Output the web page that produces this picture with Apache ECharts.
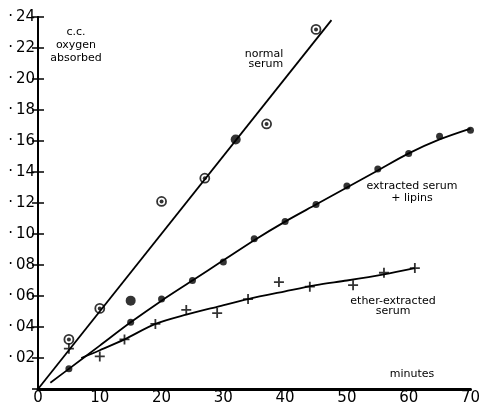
<!DOCTYPE html>
<html>
<head>
<meta charset="utf-8">
<script src="https://cdn.jsdelivr.net/npm/echarts@6/dist/echarts.min.js"></script>
<style>html,body{margin:0;padding:0;background:#fff;}#c{width:483px;height:406px;}</style>
</head>
<body>
<div id="c"></div>
<script>
// Normal serum (ringed circles) and the two solid ones
const normalRingX = [5, 10, 20, 27, 37, 45];
const normalRingY = [0.032, 0.052, 0.121, 0.136, 0.171, 0.232];
const normalSolidX = [15, 32];
const normalSolidY = [0.057, 0.161];
const normalFitX = [0, 47.5];
const normalFitY = [0, 0.238];

// Extracted serum + lipins (dots)
const extractedX = [5, 15, 20, 25, 30, 35, 40, 45, 50, 55, 60, 65, 70];
const extractedY = [0.013, 0.043, 0.058, 0.070, 0.082, 0.097, 0.108, 0.119, 0.131, 0.142, 0.152, 0.163, 0.167];
const extractedFitX = [2, 5, 10, 15, 20, 25, 30, 35, 40, 45, 50, 55, 60, 65, 70];
const extractedFitY = [0.004, 0.013, 0.028, 0.043, 0.057, 0.070, 0.083, 0.096, 0.108, 0.119, 0.130, 0.141, 0.152, 0.161, 0.168];

// Ether-extracted serum (crosses)
const etherX = [5, 10, 14, 19, 24, 29, 34, 39, 44, 51, 56, 61];
const etherY = [0.026, 0.021, 0.032, 0.042, 0.051, 0.049, 0.058, 0.069, 0.066, 0.067, 0.075, 0.078];
const etherFitX = [7, 10, 14, 19, 24, 29, 34, 40, 45, 50, 56, 61];
const etherFitY = [0.020, 0.025, 0.032, 0.042, 0.048, 0.053, 0.058, 0.063, 0.067, 0.070, 0.074, 0.078];

const xTicks = [0, 10, 20, 30, 40, 50, 60, 70];
const yTicks = [0.02, 0.04, 0.06, 0.08, 0.10, 0.12, 0.14, 0.16, 0.18, 0.20, 0.22, 0.24];

const zip = (xs, ys) => xs.map((x, i) => [x, ys[i]]);
const FONT = 'DejaVu Sans';
const chart = echarts.init(document.getElementById('c'));

const yLabel = v => {
  const n = Math.round(v * 100);
  if (n === 0) return '';
  return '·\u2009' + String(n).padStart(2, '0');
};

const note = (x, y, text, lh) => ({
  type: 'text', x: x, y: y, silent: true,
  style: { text: text, align: 'center', verticalAlign: 'top', fontFamily: FONT,
           fontSize: 11, lineHeight: lh, fill: '#000' }
});

chart.setOption({
  animation: false,
  backgroundColor: '#fff',
  grid: { left: 38, right: 12, top: 17, bottom: 16, containLabel: false },
  xAxis: [
    { type: 'value', min: xTicks[0], max: xTicks[xTicks.length - 1], interval: 10,
      axisLine: { lineStyle: { color: '#000', width: 3 } },
      axisTick: { show: false }, splitLine: { show: false },
      axisLabel: { color: '#000', fontSize: 15, fontFamily: FONT, margin: 2 } },
    { type: 'value', position: 'top', min: 0, max: 70,
      axisLine: { show: true, lineStyle: { color: '#000', width: 2 } },
      axisTick: { show: false }, axisLabel: { show: false }, splitLine: { show: false } }
  ],
  yAxis: [
    { type: 'value', min: 0, max: yTicks[yTicks.length - 1], interval: 0.02,
      axisLine: { show: true, lineStyle: { color: '#000', width: 2 } },
      axisTick: { show: true, inside: true, length: 6, lineStyle: { color: '#000', width: 1.5 } },
      splitLine: { show: false },
      axisLabel: { color: '#000', fontSize: 15, fontFamily: FONT, margin: 3, formatter: yLabel } },
    { type: 'value', position: 'right', min: 0, max: 0.24, interval: 0.02,
      axisLine: { show: true, lineStyle: { color: '#000', width: 2 } },
      axisTick: { show: true, inside: true, length: 6, lineStyle: { color: '#000', width: 1.5 } },
      splitLine: { show: false }, axisLabel: { show: false } }
  ],
  series: [
    { type: 'line', data: zip(normalFitX, normalFitY), showSymbol: false,
      lineStyle: { color: '#000', width: 1.8 }, silent: true },
    { type: 'line', data: zip(extractedFitX, extractedFitY), smooth: 0.3, showSymbol: false,
      lineStyle: { color: '#000', width: 1.8 }, silent: true },
    { type: 'line', data: zip(etherFitX, etherFitY), smooth: 0.3, showSymbol: false,
      lineStyle: { color: '#000', width: 1.8 }, silent: true },
    { type: 'scatter', data: zip(normalRingX, normalRingY), symbol: 'circle', symbolSize: 9,
      itemStyle: { color: '#fff', borderColor: '#000', borderWidth: 1.8 } },
    { type: 'scatter', data: zip(normalRingX, normalRingY), symbol: 'circle', symbolSize: 4,
      itemStyle: { color: '#000' } },
    { type: 'scatter', data: zip(normalSolidX, normalSolidY), symbol: 'circle', symbolSize: 10,
      itemStyle: { color: '#000' } },
    { type: 'scatter', data: zip(extractedX, extractedY), symbol: 'circle', symbolSize: 7,
      itemStyle: { color: '#000' } },
    { type: 'scatter', data: zip(etherX, etherY), symbolSize: 10,
      symbol: 'path://M-0.9,-5H0.9V-0.9H5V0.9H0.9V5H-0.9V0.9H-5V-0.9H-0.9Z',
      itemStyle: { color: '#000' } }
  ],
  graphic: [
    note(76, 26, 'c.c.\noxygen\nabsorbed', 13),
    note(264, 49, 'normal\n serum', 10),
    note(412, 180, 'extracted serum\n+ lipins', 12),
    note(393, 296, 'ether-extracted\nserum', 10),
    note(412, 368, 'minutes', 12)
  ]
});
</script>
</body>
</html>
